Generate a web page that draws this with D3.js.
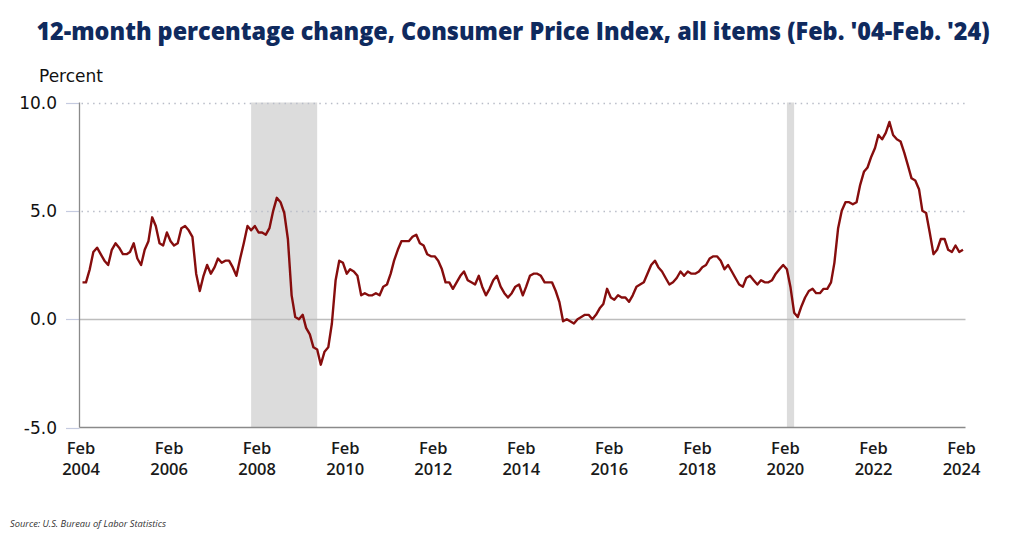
<!DOCTYPE html>
<html>
<head>
<meta charset="utf-8">
<script src="https://cdn.jsdelivr.net/npm/d3@7"></script>
<style>
  html, body { margin: 0; padding: 0; background: #fff; }
  svg { display: block; }
</style>
</head>
<body>
<svg id="chart" width="1024" height="536"></svg>
<script>
// ---- Data ----
const startMonth = "2004-02";
// 12-month % change, CPI-U all items, Feb 2004 .. Feb 2024 (monthly)
const cpiValues = [
  // 2004 Feb-Dec
  1.7, 1.7, 2.3, 3.1, 3.3, 3.0, 2.7, 2.5, 3.2, 3.5, 3.3,
  // 2005
  3.0, 3.0, 3.1, 3.5, 2.8, 2.5, 3.2, 3.6, 4.7, 4.3, 3.5, 3.4,
  // 2006
  4.0, 3.6, 3.4, 3.5, 4.2, 4.3, 4.1, 3.8, 2.1, 1.3, 2.0, 2.5,
  // 2007
  2.1, 2.4, 2.8, 2.6, 2.7, 2.7, 2.4, 2.0, 2.8, 3.5, 4.3, 4.1,
  // 2008
  4.3, 4.0, 4.0, 3.9, 4.2, 5.0, 5.6, 5.4, 4.9, 3.7, 1.1, 0.1,
  // 2009
  0.0, 0.2, -0.4, -0.7, -1.3, -1.4, -2.1, -1.5, -1.3, -0.2, 1.8, 2.7,
  // 2010
  2.6, 2.1, 2.3, 2.2, 2.0, 1.1, 1.2, 1.1, 1.1, 1.2, 1.1, 1.5,
  // 2011
  1.6, 2.1, 2.7, 3.2, 3.6, 3.6, 3.6, 3.8, 3.9, 3.5, 3.4, 3.0,
  // 2012
  2.9, 2.9, 2.7, 2.3, 1.7, 1.7, 1.4, 1.7, 2.0, 2.2, 1.8, 1.7,
  // 2013
  1.6, 2.0, 1.5, 1.1, 1.4, 1.8, 2.0, 1.5, 1.2, 1.0, 1.2, 1.5,
  // 2014
  1.6, 1.1, 1.5, 2.0, 2.1, 2.1, 2.0, 1.7, 1.7, 1.7, 1.3, 0.8,
  // 2015
  -0.1, 0.0, -0.1, -0.2, 0.0, 0.1, 0.2, 0.2, 0.0, 0.2, 0.5, 0.7,
  // 2016
  1.4, 1.0, 0.9, 1.1, 1.0, 1.0, 0.8, 1.1, 1.5, 1.6, 1.7, 2.1,
  // 2017
  2.5, 2.7, 2.4, 2.2, 1.9, 1.6, 1.7, 1.9, 2.2, 2.0, 2.2, 2.1,
  // 2018
  2.1, 2.2, 2.4, 2.5, 2.8, 2.9, 2.9, 2.7, 2.3, 2.5, 2.2, 1.9,
  // 2019
  1.6, 1.5, 1.9, 2.0, 1.8, 1.6, 1.8, 1.7, 1.7, 1.8, 2.1, 2.3,
  // 2020
  2.5, 2.3, 1.5, 0.3, 0.1, 0.6, 1.0, 1.3, 1.4, 1.2, 1.2, 1.4,
  // 2021
  1.4, 1.7, 2.6, 4.2, 5.0, 5.4, 5.4, 5.3, 5.4, 6.2, 6.8, 7.0,
  // 2022
  7.5, 7.9, 8.5, 8.3, 8.6, 9.1, 8.5, 8.3, 8.2, 7.7, 7.1, 6.5,
  // 2023
  6.4, 6.0, 5.0, 4.9, 4.0, 3.0, 3.2, 3.7, 3.7, 3.2, 3.1, 3.4,
  // 2024 Jan-Feb
  3.1, 3.2
];
// Recession periods (shaded)
const recessions = [
  { start: "2007-12", end: "2009-06" },
  { start: "2020-02", end: "2020-04" }
];
const yTicks = [-5, 0, 5, 10];
const xTickYears = [2004, 2006, 2008, 2010, 2012, 2014, 2016, 2018, 2020, 2022, 2024];
const titleText = "12-month percentage change, Consumer Price Index, all items (Feb. '04-Feb. '24)";
const yAxisLabel = "Percent";
const sourceText = "Source: U.S. Bureau of Labor Statistics";

// ---- Build ----
const parseMonth = d3.timeParse("%Y-%m");
const start = parseMonth(startMonth);
const series = cpiValues.map((v, i) => ({ date: d3.timeMonth.offset(start, i), value: v }));

const svg = d3.select("#chart");
const plotLeft = 79.5, plotRight = 965.5;

const x = d3.scaleTime()
  .domain([series[0].date, series[series.length - 1].date])
  .range([82.5, 963]);
const y = d3.scaleLinear().domain([-5, 10]).range([427.5, 102.5]);

// Recession shading
svg.append("g").selectAll("rect").data(recessions).join("rect")
  .attr("x", d => x(parseMonth(d.start)))
  .attr("width", d => x(parseMonth(d.end)) - x(parseMonth(d.start)))
  .attr("y", y(10))
  .attr("height", y(-5) - y(10))
  .attr("fill", "#dcdcdc");

// Gridlines
const grid = svg.append("g");
yTicks.forEach(t => {
  const yy = Math.round(y(t)) + 0.5;
  grid.append("line")
    .attr("x1", 66).attr("x2", plotLeft)
    .attr("y1", yy).attr("y2", yy)
    .attr("stroke", "#c5cbe0").attr("stroke-width", 1.2);
  if (t === 5 || t === 10) {
    grid.append("line")
      .attr("x1", plotLeft + 2).attr("x2", plotRight)
      .attr("y1", yy).attr("y2", yy)
      .attr("stroke", "#b9bdc8").attr("stroke-width", 1.3)
      .attr("stroke-dasharray", "1.5,4.3");
  } else if (t === 0) {
    grid.append("line")
      .attr("x1", plotLeft).attr("x2", plotRight)
      .attr("y1", yy).attr("y2", yy)
      .attr("stroke", "#bdbdbd").attr("stroke-width", 1.3);
  }
});

// Y axis line
svg.append("line")
  .attr("x1", plotLeft).attr("x2", plotLeft)
  .attr("y1", y(10)).attr("y2", y(-5))
  .attr("stroke", "#8a8a8a").attr("stroke-width", 1.3);
// bottom axis line
svg.append("line")
  .attr("x1", plotLeft).attr("x2", plotRight)
  .attr("y1", y(-5)).attr("y2", y(-5))
  .attr("stroke", "#8a8a8a").attr("stroke-width", 1.5);

// Y tick labels (plain hyphen for negatives)
const fmtY = d => d.toFixed(1);
svg.append("g").selectAll("text").data(yTicks).join("text")
  .attr("x", 57)
  .attr("y", d => y(d))
  .attr("dy", "0.36em")
  .attr("text-anchor", "end")
  .attr("font-family", "DejaVu Sans, sans-serif")
  .attr("font-size", 17)
  .attr("fill", "#111")
  .text(fmtY);

// Y axis title
svg.append("text")
  .attr("x", 39).attr("y", 82)
  .attr("font-family", "DejaVu Sans, sans-serif")
  .attr("font-size", 17)
  .attr("fill", "#111")
  .text(yAxisLabel);

// X tick labels
const xt = svg.append("g").selectAll("g").data(xTickYears).join("g")
  .attr("transform", d => `translate(${x(new Date(d, 1, 1)) - 1.5},0)`);
xt.append("text").attr("y", 454).attr("text-anchor", "middle")
  .attr("font-family", "Open Sans, sans-serif").attr("font-weight", 600)
  .attr("font-size", 16.5).attr("fill", "#1a1a1a").text("Feb");
xt.append("text").attr("y", 475).attr("text-anchor", "middle")
  .attr("font-family", "Open Sans, sans-serif").attr("font-weight", 600)
  .attr("font-size", 16.5).attr("fill", "#1a1a1a").text(d => d);

// Line
svg.append("path")
  .datum(series)
  .attr("fill", "none")
  .attr("stroke", "#860d0d")
  .attr("stroke-width", 2.4)
  .attr("stroke-linejoin", "round")
  .attr("d", d3.line().x(d => x(d.date)).y(d => y(d.value)));

// Title: fit to target width with a horizontal scale transform
const titleWidth = 954, titleCenter = 513;
const titleG = svg.append("g");
const title = titleG.append("text")
  .attr("x", 0).attr("y", 0)
  .attr("text-anchor", "middle")
  .attr("font-family", "Open Sans, sans-serif")
  .attr("font-weight", 800)
  .attr("font-size", 25)
  .attr("fill", "#0f2a5e")
  .text(titleText);
const natW = title.node().getComputedTextLength();
const sx = Math.min(1, titleWidth / natW);
titleG.attr("transform", `translate(${titleCenter},40) scale(${sx},1)`);

// Source
svg.append("text")
  .attr("x", 10).attr("y", 527)
  .attr("font-family", "Open Sans, sans-serif")
  .attr("font-style", "italic")
  .attr("font-size", 9.3)
  .attr("fill", "#333")
  .text(sourceText);
</script>
</body>
</html>
